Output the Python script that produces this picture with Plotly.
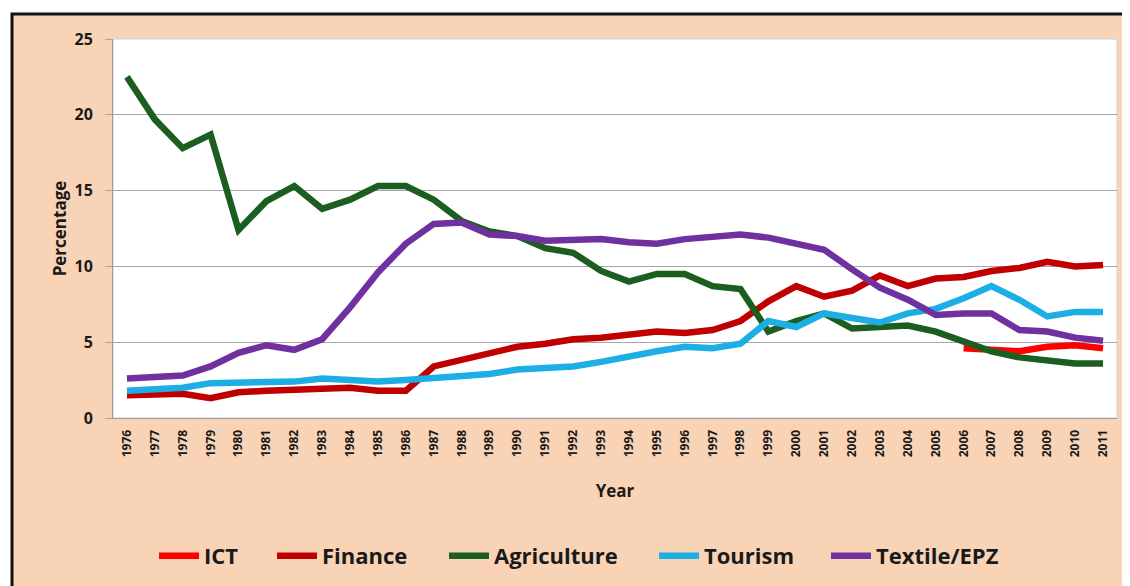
import plotly.graph_objects as go

years = [str(y) for y in range(1976, 2012)]

ict_years = ["2006", "2007", "2008", "2009", "2010", "2011"]
ict = [4.6, 4.5, 4.4, 4.7, 4.8, 4.6]

finance = [1.5, 1.6, 1.6, 1.3, 1.7, 1.8, 1.9, 1.9, 2.0, 1.8, 1.8, 3.4, 3.8, 4.3, 4.7, 4.9,
           5.2, 5.3, 5.5, 5.7, 5.6, 5.8, 6.4, 7.7, 8.7, 8.0, 8.4, 9.4, 8.7, 9.2, 9.3, 9.7,
           9.9, 10.3, 10.0, 10.1]

agriculture = [22.5, 19.7, 17.8, 18.7, 12.4, 14.3, 15.3, 13.8, 14.4, 15.3, 15.3, 14.4, 13.0,
               12.3, 12.0, 11.2, 10.9, 9.7, 9.0, 9.5, 9.5, 8.7, 8.5, 5.7, 6.4, 6.9, 5.9, 6.0,
               6.1, 5.7, 5.0, 4.4, 4.0, 3.8, 3.6, 3.6]

tourism = [1.8, 1.9, 2.0, 2.3, 2.3, 2.4, 2.4, 2.6, 2.5, 2.4, 2.5, 2.6, 2.7, 2.9, 3.2, 3.3,
           3.4, 3.7, 4.1, 4.4, 4.7, 4.6, 4.9, 6.4, 6.0, 6.9, 6.6, 6.3, 6.9, 7.2, 7.9, 8.7,
           7.8, 6.7, 7.0, 7.0]

textile = [2.6, 2.7, 2.8, 3.4, 4.3, 4.8, 4.5, 5.2, 7.3, 9.6, 11.5, 12.8, 12.9, 12.1, 12.0,
           11.7, 11.8, 11.8, 11.6, 11.5, 11.8, 12.0, 12.1, 11.9, 11.5, 11.1, 9.8, 8.6, 7.8,
           6.8, 6.9, 6.9, 5.8, 5.7, 5.3, 5.1]

series = [
    ("ICT", ict_years, ict, "#FF0000"),
    ("Finance", years, finance, "#C00000"),
    ("Agriculture", years, agriculture, "#1B5E20"),
    ("Tourism", years, tourism, "#1EAEE6"),
    ("Textile/EPZ", years, textile, "#7030A0"),
]

FONT = "Open Sans"
TXT = "#1a1a1a"

OFF = 8  # page body margin
# plot area in screenshot coords: x 113..1117, y 39..418
L, R, T, B = 113 - OFF, 1117 - OFF, 39 - OFF, 418 - OFF
W, H = R - L, B - T

def px(x):
    return (x - OFF - L) / W

def py(y):
    return (B - (y - OFF)) / H

legend_starts = [162, 280, 452, 662, 834]

fig = go.Figure()
legends = {}
for i, (name, xs, ys, col) in enumerate(series):
    key = "legend" if i == 0 else f"legend{i + 1}"
    fig.add_trace(go.Scatter(x=xs, y=ys, name=name, mode="lines", legend=key,
                             line=dict(color=col, width=6.5)))
    legends[key] = dict(orientation="h", x=px(legend_starts[i] - 8), xanchor="left",
                        y=py(556), yanchor="middle",
                        font=dict(family=FONT, size=22, color=TXT, weight="bold"),
                        bgcolor="rgba(0,0,0,0)", itemwidth=40)

fig.add_shape(type="rect", xref="paper", yref="paper",
              x0=px(12), x1=px(1160), y0=py(610), y1=py(14),
              fillcolor="#F9D3B5", line=dict(color="#111111", width=3), layer="below")
fig.add_shape(type="rect", xref="paper", yref="paper",
              x0=0, x1=1, y0=0, y1=1,
              fillcolor="white", line=dict(color="#d0d0d0", width=1), layer="below")

fig.update_layout(
    width=1130, height=586,
    margin=dict(l=L, r=1130 - R, t=T, b=586 - B, autoexpand=False),
    paper_bgcolor="white",
    plot_bgcolor="white",
    showlegend=True,
    xaxis=dict(type="category", categoryorder="array", categoryarray=years,
               range=[-0.5, 35.5], tickangle=-90, showgrid=False, automargin=False,
               tickfont=dict(family=FONT, size=12, color=TXT, weight="bold"),
               ticklabelstandoff=6,
               showline=True, linecolor="#9a9a9a", linewidth=1,
               title=dict(text="Year", font=dict(family=FONT, size=17, color=TXT, weight="bold"),
                          standoff=28)),
    yaxis=dict(range=[0, 25], dtick=5, showgrid=True, gridcolor="#a6a6a6", gridwidth=1,
               automargin=False,
               tickfont=dict(family=FONT, size=16, color=TXT, weight="bold"),
               ticks="outside", ticklen=7, tickcolor="#a6a6a6", ticklabelstandoff=9,
               showline=True, linecolor="#9a9a9a", linewidth=1, zeroline=False,
               title=dict(text="Percentage", font=dict(family=FONT, size=17, color=TXT, weight="bold"),
                          standoff=3)),
    **legends,
)

fig.write_html("out.html")
